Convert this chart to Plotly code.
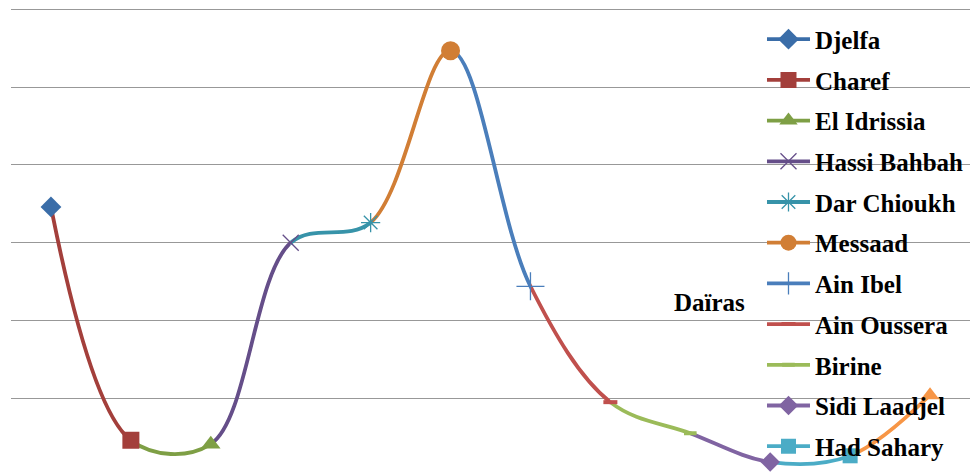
import plotly.graph_objects as go

# Daïras of the wilaya, left to right along the curve
dairas = ["Djelfa", "Charef", "El Idrissia", "Hassi Bahbah", "Dar Chioukh", "Messaad",
          "Ain Ibel", "Ain Oussera", "Birine", "Sidi Laadjel", "Had Sahary", "Faidh El Botma"]
values = [17.3, 2.3, 2.05, 15.0, 16.3, 27.35, 12.2, 4.75, 2.75, 0.9, 1.3, 5.2]

colors = ["#3A6DA8", "#A33F3B", "#7E9F45", "#654E89", "#3793A9", "#D17E35",
          "#4A7EBB", "#C0504D", "#9BBB59", "#8064A2", "#4BACC6", "#F79646"]
symbols = ["diamond", "square", "triangle-up", "x-thin", "asterisk", "circle",
           "cross-thin", "line-ew", "line-ew", "diamond", "square", "triangle-up"]
marker_sizes = [16, 17, 17, 16, 16, 19, 20, 10, 9, 15, 15, 16]
in_legend = [True] * 11 + [False]

LINE_W = 3.8
Y_RANGE = [0.13, 30.48]
FONT = dict(family="Liberation Serif", size=25, color="black", weight="bold")

n = len(dairas)
fig = go.Figure()
axes = {}

# full-width subplot carrying the horizontal gridlines
axes["xaxis"] = dict(domain=[0, 1], range=[-0.5, n - 0.5], visible=False, anchor="y",
                     type="category", categoryorder="array", categoryarray=dairas)
axes["yaxis"] = dict(domain=[0, 1], range=Y_RANGE, anchor="x", tick0=0, dtick=5,
                     showgrid=True, gridcolor="#989898", gridwidth=1.2,
                     showticklabels=False, ticks="", zeroline=False, showline=False)
axes["yaxis2"] = dict(domain=[0, 1], range=Y_RANGE, anchor="x2", visible=False)
fig.add_trace(go.Scatter(x=dairas, y=values, mode="none", xaxis="x", yaxis="y",
                         showlegend=False, hoverinfo="skip"))

# one narrow subplot per segment: the whole smoothed curve is drawn in each,
# clipped to the stretch between two consecutive daïras and coloured by the second one
for k in range(n - 1):
    axes[f"xaxis{k + 2}"] = dict(domain=[(k + 0.5) / n, (k + 1.5) / n], range=[k, k + 1],
                                 visible=False, anchor="y2", type="category",
                                 categoryorder="array", categoryarray=dairas)
    fig.add_trace(go.Scatter(
        x=dairas, y=values, mode="lines",
        line=dict(color=colors[k + 1], width=LINE_W, shape="spline", smoothing=1),
        xaxis=f"x{k + 2}", yaxis="y2", showlegend=False, hoverinfo="skip"))

# markers (and legend entries) on top of everything
mx = n + 1
axes[f"xaxis{mx}"] = dict(domain=[0, 1], range=[-0.5, n - 0.5], visible=False, anchor="y2",
                          type="category", categoryorder="array", categoryarray=dairas)
for i, name in enumerate(dairas):
    thin = symbols[i] in ("x-thin", "asterisk", "cross-thin", "line-ew")
    if thin:
        lw = 4 if symbols[i] == "line-ew" else 1.3
        marker = dict(symbol=symbols[i], size=marker_sizes[i], color=colors[i],
                      line=dict(color=colors[i], width=lw))
    else:
        marker = dict(symbol=symbols[i], size=marker_sizes[i], color=colors[i],
                      line=dict(width=0))
    fig.add_trace(go.Scatter(
        x=[name], y=[values[i]], name=name, mode="lines+markers",
        marker=marker, line=dict(color=colors[i], width=LINE_W),
        xaxis=f"x{mx}", yaxis="y2", legendgroup=name, showlegend=in_legend[i],
        hoverinfo="x+y"))

fig.update_layout(
    width=977, height=474,
    margin=dict(l=11, r=7, t=2, b=0),
    paper_bgcolor="white", plot_bgcolor="rgba(0,0,0,0)",
    showlegend=True,
    legend=dict(x=0.7831, y=0.9694, xanchor="left", yanchor="top",
                bgcolor="rgba(0,0,0,0)", borderwidth=0, font=FONT,
                traceorder="grouped", tracegroupgap=5.2, itemwidth=43),
    annotations=[dict(text="Daïras", xref="paper", yref="paper", x=0.728, y=0.3644,
                      xanchor="center", yanchor="middle", showarrow=False, font=FONT)],
    **axes,
)

fig.write_html("out.html")
